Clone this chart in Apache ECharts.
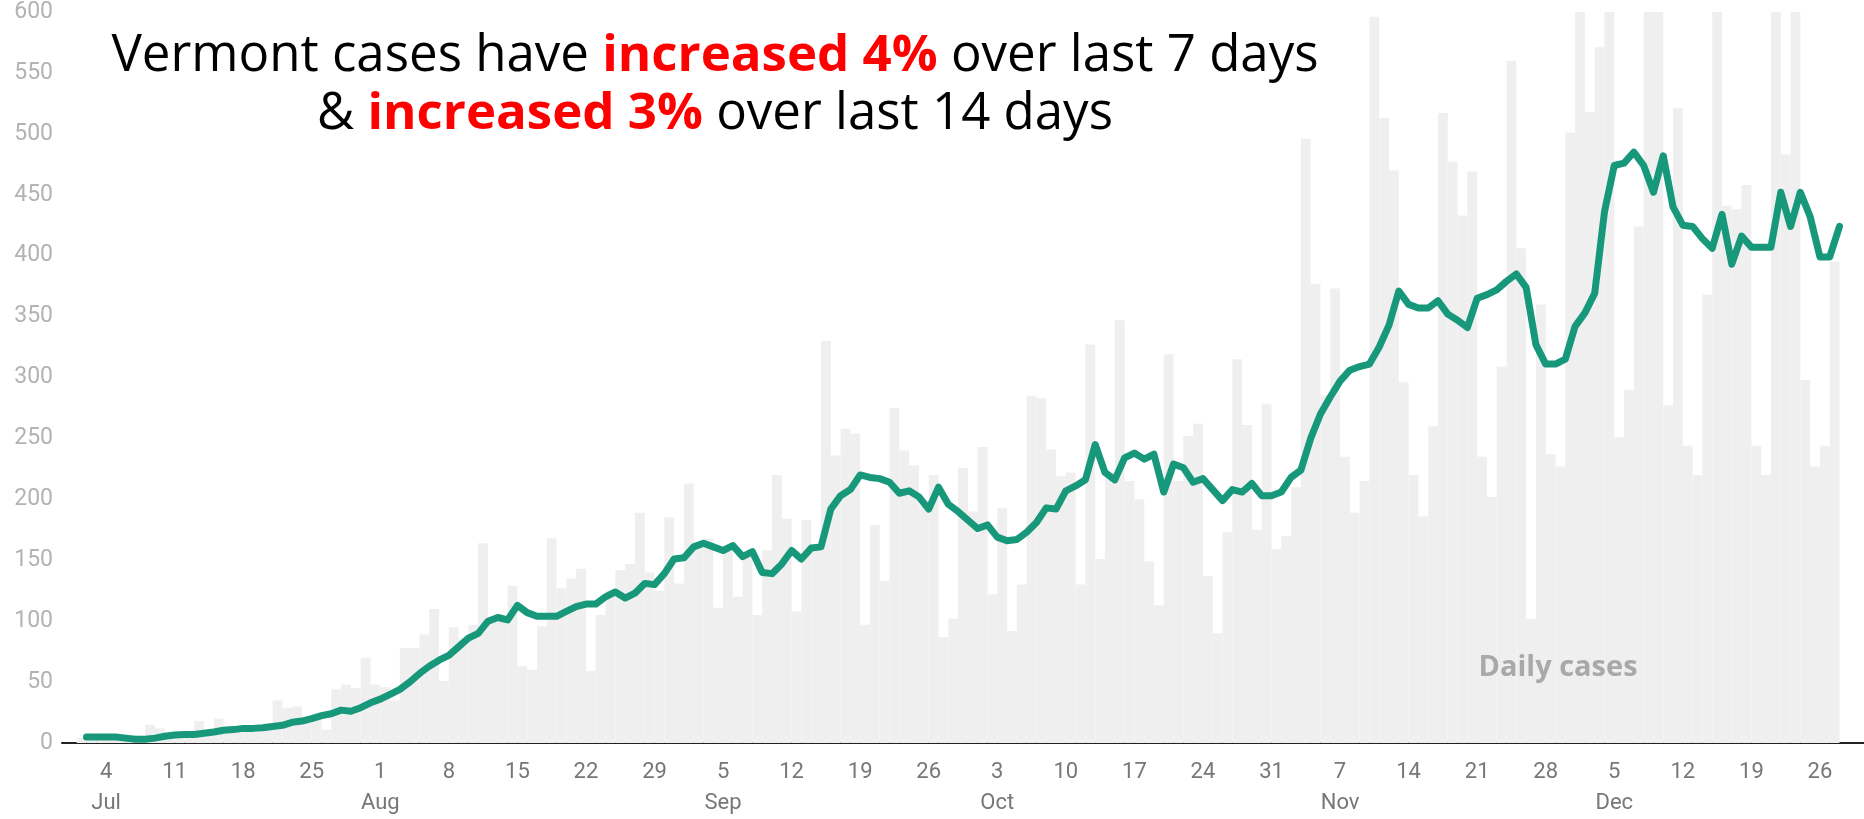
<!DOCTYPE html>
<html>
<head>
<meta charset="utf-8">
<script src="https://cdn.jsdelivr.net/npm/echarts@6/dist/echarts.min.js"></script>
<style>
html, body {margin: 0; padding: 0; background: #fff;}
#chart {width: 1864px; height: 819px;}
</style>
</head>
<body>
<div id="chart"></div>
<script>
// day 0 of the x axis
const origin = '2020-06-30';
const firstDay = '2020-07-02';

const tickDates = ['2020-07-04', '2020-07-11', '2020-07-18', '2020-07-25',
	'2020-08-01', '2020-08-08', '2020-08-15', '2020-08-22', '2020-08-29',
	'2020-09-05', '2020-09-12', '2020-09-19', '2020-09-26',
	'2020-10-03', '2020-10-10', '2020-10-17', '2020-10-24', '2020-10-31',
	'2020-11-07', '2020-11-14', '2020-11-21', '2020-11-28',
	'2020-12-05', '2020-12-12', '2020-12-19', '2020-12-26'];
const months = ['Jan', 'Feb', 'Mar', 'Apr', 'May', 'Jun', 'Jul', 'Aug', 'Sep', 'Oct', 'Nov', 'Dec'];

// daily new cases, from firstDay
const daily = [
	4, 6, 5, 3, 2, 4, 6, 15, 12, 6,
	8, 9, 18, 11, 20, 12, 10, 14, 13, 16,
	35, 29, 30, 22, 22, 11, 44, 48, 45, 70,
	48, 46, 35, 78, 78, 89, 110, 51, 95, 85,
	97, 164, 100, 103, 129, 63, 60, 96, 168, 127,
	135, 143, 59, 105, 125, 142, 147, 189, 140, 125,
	185, 131, 213, 165, 168, 111, 160, 120, 155, 105,
	158, 220, 184, 108, 183, 161, 330, 236, 258, 254,
	97, 179, 133, 275, 240, 228, 195, 220, 87, 102,
	226, 190, 243, 122, 193, 92, 130, 285, 283, 241,
	219, 222, 130, 327, 151, 222, 347, 215, 200, 149,
	113, 319, 215, 252, 262, 137, 90, 173, 315, 261,
	175, 278, 159, 170, 210, 496, 377, 285, 373, 235,
	189, 215, 596, 513, 470, 296, 220, 186, 260, 517,
	477, 433, 469, 235, 202, 309, 560, 406, 102, 360,
	237, 227, 501, 660, 518, 571, 640, 251, 290, 424,
	615, 728, 277, 521, 244, 220, 368, 679, 441, 438,
	458, 244, 220, 683, 483, 637, 298, 227, 244, 395];

// 7-day average, same days
const average = [
	5, 5, 5, 5, 4, 3, 3, 4, 5.5, 6.5,
	7, 7, 8, 9, 10.5, 11, 12, 12, 12.5, 13.5,
	14.5, 17, 18, 20, 22.5, 24, 27, 26, 29, 33,
	36, 40, 44, 50, 57, 63, 68, 72, 79, 86,
	90, 100, 103, 101, 113, 107, 104, 104, 104, 108,
	112, 114, 114, 120, 124, 119, 123, 131, 130, 139,
	151, 152, 161, 164, 161, 158, 162, 153, 157, 140,
	139, 147, 158, 151, 160, 161, 192, 203, 208, 220,
	218, 217, 214, 205, 207, 202, 192, 210, 196, 190,
	183, 176, 179, 169, 166, 167, 173, 181, 193, 192,
	207, 211, 216, 245, 222, 216, 234, 238, 233, 237,
	206, 229, 226, 214, 217, 208, 199, 208, 206, 213,
	203, 203, 206, 218, 224, 250, 270, 284, 297, 306,
	309, 311, 325, 343, 371, 360, 357, 357, 363, 352,
	347, 341, 365, 368, 372, 379, 385, 374, 327, 311,
	311, 315, 342, 353, 369, 436, 474, 476, 485, 474,
	452, 482, 440, 425, 424, 414, 406, 434, 393, 416,
	407, 407, 407, 452, 424, 452, 432, 399, 399, 424];

const dayOf = s => Math.round((Date.parse(s) - Date.parse(origin)) / 864e5);
const start = dayOf(firstDay);
const font = '"Open Sans", sans-serif';

const chart = echarts.init(document.getElementById('chart'));
chart.setOption({
	animation: false,
	backgroundColor: '#fff',
	grid: {left: 62, right: 0, top: 12, bottom: 72},
	title: {
		left: 710,
		top: 22,
		textAlign: 'center',
		text: '{n|Vermont cases have }{r|increased 4%}{n| over last 7 days}\n{n|& }{r|increased 3%}{n| over last 14 days}',
		textStyle: {
			rich: {
				n: {fontFamily: font, fontSize: 51, fontWeight: 'normal', color: '#000', lineHeight: 58},
				r: {fontFamily: font, fontSize: 51, fontWeight: 'bold', color: '#ff0000', lineHeight: 58}
			}
		}
	},
	graphic: [{
		type: 'text',
		x: 1558,
		y: 668,
		z: 10,
		style: {text: 'Daily cases', fontFamily: font, fontSize: 29, fontWeight: 'bold',
			fill: '#a9a9a9', align: 'center', verticalAlign: 'middle'}
	}],
	xAxis: {
		type: 'value',
		min: -0.5,
		max: 183.5,
		axisLine: {show: true, lineStyle: {color: '#222', width: 2}},
		axisTick: {show: false},
		splitLine: {show: false},
		axisLabel: {
			customValues: tickDates.map(dayOf),
			color: '#777',
			fontFamily: 'Roboto',
			fontSize: 22,
			lineHeight: 31,
			margin: 14,
			formatter: value => {
				let d = new Date(Date.parse(origin) + value * 864e5);
				let day = d.getUTCDate();
				return day <= 7 ? day + '\n' + months[d.getUTCMonth()] : String(day);
			}
		}
	},
	yAxis: {
		type: 'value',
		min: 0,
		max: 600,
		interval: 50,
		axisLine: {show: false},
		axisTick: {show: false},
		splitLine: {show: false},
		axisLabel: {color: '#b3b3b3', fontFamily: 'Roboto', fontSize: 23, margin: 9}
	},
	series: [{
		type: 'bar',
		barCategoryGap: '0%',
		itemStyle: {color: '#efefef'},
		data: daily.map((v, i) => [start + i - 0.5, v])
	}, {
		type: 'line',
		showSymbol: false,
		z: 5,
		lineStyle: {color: '#17987b', width: 7, cap: 'round', join: 'round'},
		data: average.map((v, i) => [start + i, v])
	}]
});
</script>
</body>
</html>
